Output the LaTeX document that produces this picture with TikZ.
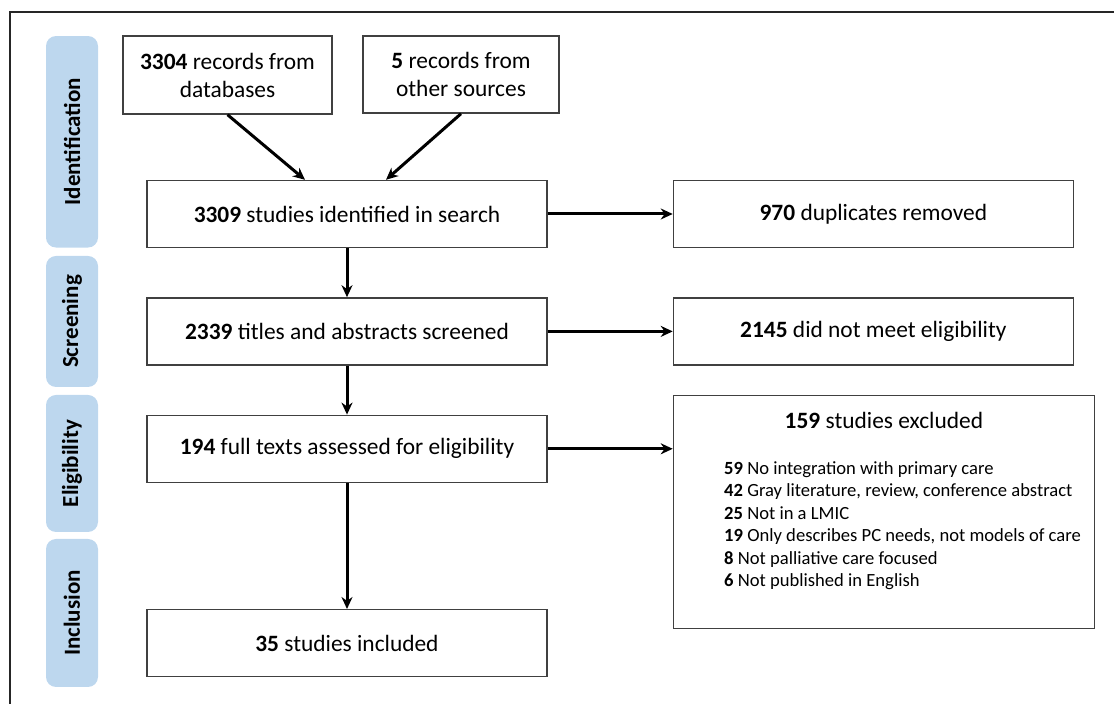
\documentclass[tikz,border=0pt]{standalone}
\usepackage{fontspec}
\setmainfont{Carlito}
\usetikzlibrary{arrows.meta,positioning}
\definecolor{phaseblue}{RGB}{189,215,238}

\begin{document}
\begin{tikzpicture}[-{Stealth[length=6pt,width=5.5pt]},line width=1.5pt,node distance=24.5pt,font=\fontsize{11.7}{14}\selectfont]

\tikzstyle{box}=[draw=black!75,line width=0.7pt,fill=white,minimum width=200pt,minimum height=33.5pt,align=center,inner sep=2pt]
\tikzstyle{phase}=[fill=phaseblue,rounded corners=5pt,rotate=90,minimum height=26pt,inner sep=0pt,font=\fontsize{11.5}{14}\selectfont\bfseries]

\useasboundingbox (0,0) rectangle (557pt,-352pt);

%frame
\draw [-,line width=1pt,black!85] (557pt,-6pt) -- (5pt,-6pt) -- (5pt,-352pt);

%phases
\node [phase,minimum width=105.75pt] (idlab) at (36pt,-70.9pt) {Identification};
\node [phase,minimum width=65.5pt] (sclab) at (36pt,-160.75pt) {Screening};
\node [phase,minimum width=68.5pt] (ellab) at (36pt,-231.75pt) {Eligibility};
\node [phase,minimum width=74pt] (inlab) at (36pt,-306.5pt) {Inclusion};

%identification
\node [box,minimum width=104.5pt,minimum height=39pt] (db) at (113.75pt,-37.5pt) {\textbf{3304} records from\\databases};
\node [box,minimum width=98pt,minimum height=38.5pt] (other) at (230.5pt,-37.25pt) {\textbf{5} records from\\other sources};
\node [box] (ident) at (173.5pt,-107pt) {\textbf{3309} studies identified in search};
\node [box,node distance=62.5pt] (dup) [right=of ident] {\textbf{970} duplicates removed};

\path (db.south) edge ([xshift=-21pt]ident.north)
      (other.south) edge ([xshift=19.5pt]ident.north)
      (ident) edge (dup);

%screening
\node [box] (screen) [below=of ident] {\textbf{2339} titles and abstracts screened};
\node [box,node distance=62.5pt] (notmeet) [right=of screen] {\textbf{2145} did not meet eligibility};

\path (ident) edge (screen)
      (screen) edge (notmeet);

%eligibility
\node [box] (full) [below=of screen] {\textbf{194} full texts assessed for eligibility};
\node [box,node distance=62.5pt,minimum width=210.5pt,minimum height=116.5pt,yshift=-31.5pt] (excl) [right=of full] {};
\node (exclt) at ([yshift=-13pt]excl.north) {\textbf{159} studies excluded};
\node [anchor=west,align=left,inner sep=0pt,font=\fontsize{9.3}{11.25}\selectfont] (exclr) at ([xshift=25pt,yshift=-7pt]excl.west)
  {\textbf{59} No integration with primary care\\
   \textbf{42} Gray literature, review, conference abstract\\
   \textbf{25} Not in a LMIC\\
   \textbf{19} Only describes PC needs, not models of care\\
   \textbf{8} Not palliative care focused\\
   \textbf{6} Not published in English};

\path (screen) edge (full)
      (full.east) edge (full.east -| excl.west);

%inclusion
\node [box,node distance=63pt] (incl) [below=of full] {\textbf{35} studies included};

\path (full) edge (incl);

\end{tikzpicture}
\end{document}
